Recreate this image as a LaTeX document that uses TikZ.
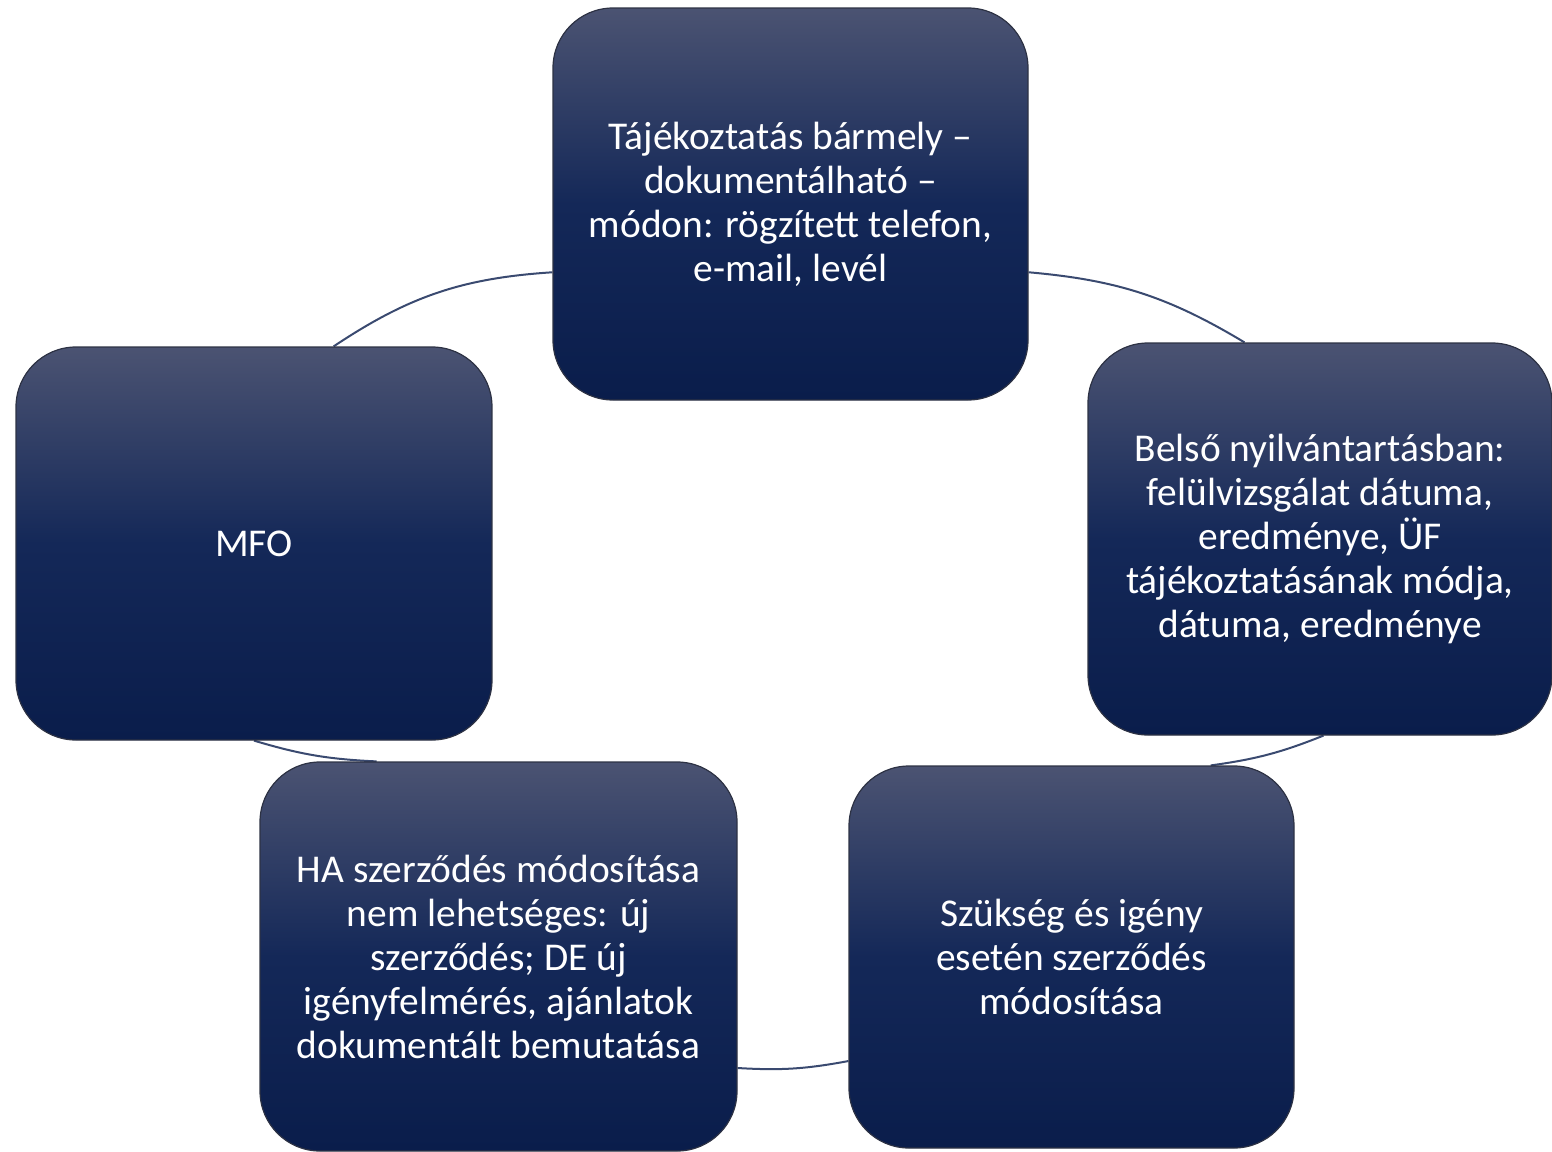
\documentclass[tikz,border=0pt]{standalone}
\usepackage{fontspec}
\setmainfont{Carlito}
\usepackage{tikz}
\usetikzlibrary{backgrounds}

\definecolor{boxtop}{HTML}{4B5372}
\definecolor{boxmid}{HTML}{142858}
\definecolor{boxbot}{HTML}{0A1D4B}
\definecolor{ringline}{HTML}{3A4A70}

\tikzset{
  cyclebox/.style={rounded corners=30pt, top color=boxtop, bottom color=boxbot, middle color=boxmid,
    draw=boxtop!60!black, line width=0.6pt, text=white, align=center, inner sep=0pt,
    font=\fontsize{19.7}{22}\selectfont},
  ring/.style={ringline, line width=1pt}
}

\begin{document}
\begin{tikzpicture}[x=0.5pt, y=0.5pt]
\useasboundingbox (0,0) rectangle (1552,-1151);

\node[cyclebox, minimum width=237.5pt, minimum height=196pt] (tajek) at (790.5,-204)
  {Tájékoztatás bármely –\\dokumentálható –\\módon: rögzített telefon,\\e-mail, levél};
\node[cyclebox, minimum width=232pt, minimum height=196pt] (belso) at (1320,-539)
  {Belső nyilvántartásban:\\felülvizsgálat dátuma,\\eredménye, ÜF\\tájékoztatásának módja,\\dátuma, eredménye};
\node[cyclebox, minimum width=222.5pt, minimum height=191pt] (szukseg) at (1071.5,-957)
  {Szükség és igény\\esetén szerződés\\módosítása};
\node[cyclebox, minimum width=238.5pt, minimum height=194.5pt] (ujszerz) at (498.5,-956.5)
  {HA szerződés módosítása\\nem lehetséges: új\\szerződés; DE új\\igényfelmérés, ajánlatok\\dokumentált bemutatása};
\node[cyclebox, minimum width=238pt, minimum height=196.5pt] (mfo) at (254,-543.5) {MFO};

% ring behind the boxes
\begin{scope}[on background layer]
\draw[ring] (tajek.196) to[bend right=15] (mfo.68);
\draw[ring] (tajek.344) to[bend left=13] (belso.111);
\draw[ring] (mfo.270) to[bend right=7] (ujszerz.122);
\draw[ring] (belso.271) to[bend left=7] (szukseg.54);
\draw[ring] (ujszerz.335) to[bend right=7] (szukseg.205);
\end{scope}
\end{tikzpicture}
\end{document}
